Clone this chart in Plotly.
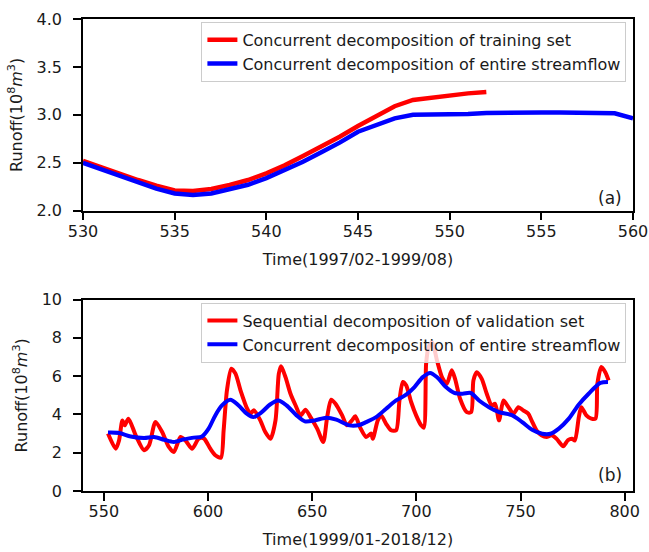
import plotly.graph_objects as go

# ---- Panel (a) data ----
a_red_x = [530, 531, 532, 533, 534, 535, 536, 537, 538, 539, 540, 541, 542, 543, 544, 545, 546, 547, 548, 549, 550, 551, 552]
a_red_y = [2.52, 2.45, 2.385, 2.32, 2.26, 2.21, 2.205, 2.226, 2.268, 2.32, 2.39, 2.473, 2.57, 2.668, 2.772, 2.883, 2.988, 3.09, 3.155, 3.18, 3.207, 3.224, 3.238]
a_blue_x = [530, 531, 532, 533, 534, 535, 536, 537, 538, 539, 540, 541, 542, 543, 544, 545, 546, 547, 548, 549, 550, 551, 552, 553, 554, 555, 556, 557, 558, 559, 560]
a_blue_y = [2.50, 2.43, 2.36, 2.29, 2.23, 2.18, 2.165, 2.18, 2.22, 2.27, 2.34, 2.42, 2.51, 2.61, 2.71, 2.824, 2.89, 2.963, 3.0, 3.0, 3.005, 3.01, 3.02, 3.025, 3.025, 3.025, 3.025, 3.025, 3.025, 3.017, 2.963]

# ---- Panel (b) data ----
b_red_x = [552, 555.7, 557.3, 558.9, 560, 561.8, 565.3, 569.3, 571.7, 574.8, 578, 581.2, 583.6, 586.8, 589.2, 592.4,
           595.5, 598, 601.1, 603.5, 606.2, 607.5, 609.1, 611.2, 613.2, 615.6, 618.8, 620.4, 622, 625.1, 627.5, 630,
           632.4, 634, 635.1, 637.2, 639.6, 642, 644.4, 646.8, 649.2, 652.4, 655.3, 657.2, 659.1, 661.2, 664.4, 666.7,
           669.1, 670.7, 673.1, 675.9, 678.3, 679.1, 681.5, 683.1, 685.5, 687.9, 690.3, 691.9, 693.5, 695.1, 697.5,
           699.9, 702.3, 703.6, 704.7, 705.9, 707.6, 709.9, 712.3, 714.6, 717, 718.6, 721, 724.2, 726.3, 727.4, 729,
           731.4, 733.8, 736.2, 737.8, 739.7, 741.8, 744.2, 746.6, 749, 751.3, 753.7, 755.3, 757.7, 760.1, 762.5,
           764.9, 767.3, 770.5, 772.8, 774.8, 776.1, 778, 779.2, 781.6, 784, 786, 786.9, 788.8, 790.7, 792.3]
b_red_y = [3.0, 2.21, 2.64, 3.69, 3.43, 3.78, 2.91, 2.13, 2.39, 3.61, 3.08, 2.30, 2.04, 2.82, 2.64, 2.21,
           2.73, 2.75, 2.21, 1.87, 1.74, 3.17, 5.26, 6.39, 6.13, 5.26, 4.30, 4.04, 4.22, 3.69, 3.08, 2.73,
           3.69, 6.13, 6.52, 5.95, 5.08, 4.48, 3.95, 4.25, 3.86, 3.26, 2.56, 3.86, 4.77, 4.56, 3.95, 3.43,
           3.69, 3.90, 3.30, 2.82, 3.0, 2.73, 3.69, 3.95, 3.51, 3.17, 3.17, 4.73, 5.70, 5.52, 4.65,
           3.95, 3.43, 3.31, 6.66, 7.53, 7.78, 6.83, 5.95, 5.60, 6.31, 5.86, 4.82, 4.12, 4.12, 5.78, 6.21,
           5.86, 5.08, 4.47, 4.56, 3.69, 4.73, 4.38, 4.04, 4.38, 4.21, 4.04, 3.69, 3.17, 2.91, 2.82,
           2.91, 2.73, 2.34, 2.66, 2.73, 2.64, 3.86, 4.38, 3.95, 3.78, 3.78, 5.60, 6.48, 6.21, 5.78]
b_blue_x = [552, 557.3, 562.9, 569.3, 574.1, 578.9, 583.6, 588.4, 593.1, 597.1, 600.3, 603.5, 606.7, 610.7, 614.7,
            618.6, 621.8, 625.8, 629.8, 633.7, 637.7, 642.5, 646.5, 651.2, 656.8, 661.6, 667.9, 672.7, 675.9,
            680.7, 685.5, 690.3, 695.1, 699.1, 703.1, 706.6, 710.2, 714.2, 718.2, 722.2, 726.1, 730.1, 734.9,
            739.7, 746.1, 750.8, 755.6, 760.4, 764.4, 768.4, 773.2, 778, 782.7, 788.3, 792]
b_blue_y = [3.05, 3.03, 2.85, 2.77, 2.82, 2.68, 2.56, 2.70, 2.79, 2.85, 3.26, 3.95, 4.47, 4.77, 4.47,
            4.04, 3.86, 4.12, 4.52, 4.73, 4.47, 3.95, 3.64, 3.69, 3.83, 3.73, 3.43, 3.45, 3.60,
            3.86, 4.30, 4.73, 5.03, 5.43, 5.95, 6.17, 5.92, 5.43, 5.13, 5.08, 5.12, 4.73, 4.38,
            4.12, 3.95, 3.60, 3.20, 2.99, 2.99, 3.26, 3.78, 4.52, 5.08, 5.65, 5.70]

RED = "#ff0000"
BLUE = "#0000ff"
FONT = "DejaVu Sans"
TXT = "#1a1a1a"
FS = 16

fig = go.Figure()
fig.add_trace(go.Scatter(x=a_red_x, y=a_red_y, mode="lines", line=dict(color=RED, width=4.5),
                         name="Concurrent decomposition of training set", xaxis="x", yaxis="y",
                         legend="legend", legendgroup="a1"))
fig.add_trace(go.Scatter(x=a_blue_x, y=a_blue_y, mode="lines", line=dict(color=BLUE, width=4.5),
                         name="Concurrent decomposition of entire streamflow", xaxis="x", yaxis="y",
                         legend="legend", legendgroup="a2"))
fig.add_trace(go.Scatter(x=b_red_x, y=b_red_y, mode="lines",
                         line=dict(color=RED, width=4, shape="spline", smoothing=0.7),
                         name="Sequential decomposition of validation set", xaxis="x2", yaxis="y2",
                         legend="legend2", legendgroup="b1"))
fig.add_trace(go.Scatter(x=b_blue_x, y=b_blue_y, mode="lines",
                         line=dict(color=BLUE, width=4, shape="spline", smoothing=0.8),
                         name="Concurrent decomposition of entire streamflow", xaxis="x2", yaxis="y2",
                         legend="legend2", legendgroup="b2"))

axis_common = dict(showline=True, mirror=True, linecolor="black", linewidth=1.5,
                   ticks="outside", ticklen=8, tickwidth=1.5, tickcolor="black",
                   showgrid=False, zeroline=False, automargin=False,
                   tickfont=dict(family=FONT, size=FS, color=TXT))
ytitle = "Runoff(10<sup>8</sup><i>m</i><sup>3</sup>)"
tfont = dict(family=FONT, size=FS, color=TXT)

legend_common = dict(bgcolor="rgba(255,255,255,0.8)", bordercolor="#cccccc", borderwidth=1,
                     font=dict(family=FONT, size=FS, color=TXT), xanchor="right", yanchor="top",
                     tracegroupgap=0)

fig.update_layout(
    width=649, height=552,
    margin=dict(l=83, r=16, t=19, b=61),
    plot_bgcolor="white", paper_bgcolor="white",
    font=dict(family=FONT, size=FS, color=TXT),
    xaxis=dict(domain=[0, 1], anchor="y", range=[530, 560], dtick=5, tick0=530,
               title=dict(text="Time(1997/02-1999/08)", standoff=14, font=tfont),
               ticklabelstandoff=-3, **axis_common),
    yaxis=dict(domain=[0.5939, 1], anchor="x", range=[2, 4], dtick=0.5, tickformat=".1f",
               title=dict(text=ytitle, standoff=10, font=tfont),
               ticklabelstandoff=8, **axis_common),
    xaxis2=dict(domain=[0, 1], anchor="y2", range=[540, 804], dtick=50, tick0=550,
                title=dict(text="Time(1999/01-2018/12)", standoff=14, font=tfont),
                ticklabelstandoff=-3, **axis_common),
    yaxis2=dict(domain=[0, 0.4055], anchor="x2", range=[0, 10], dtick=2,
                title=dict(text=ytitle, standoff=10, font=tfont),
                ticklabelstandoff=8, **axis_common),
    legend=dict(x=0.988, y=0.994, **legend_common),
    legend2=dict(x=0.988, y=0.399, **legend_common),
    annotations=[
        dict(text="(a)", xref="x domain", yref="y domain", x=0.958, y=0.066,
             showarrow=False, xanchor="center", yanchor="middle",
             font=dict(family=FONT, size=17, color=TXT)),
        dict(text="(b)", xref="x2 domain", yref="y2 domain", x=0.958, y=0.082,
             showarrow=False, xanchor="center", yanchor="middle",
             font=dict(family=FONT, size=17, color=TXT)),
    ],
)

fig.write_html("out.html")
